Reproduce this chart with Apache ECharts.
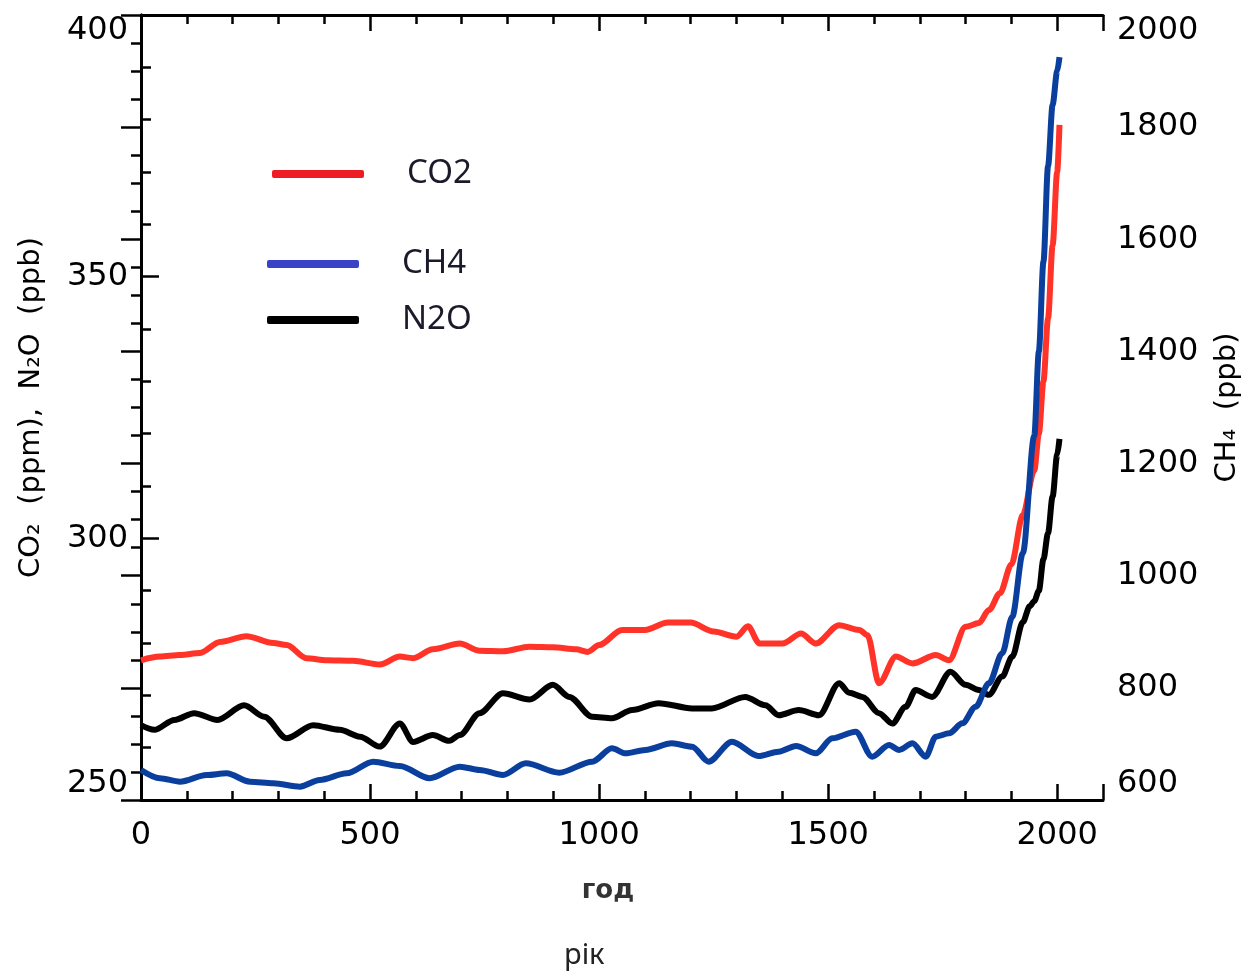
<!DOCTYPE html>
<html>
<head>
<meta charset="utf-8">
<script src="https://cdn.jsdelivr.net/npm/echarts@6/dist/echarts.min.js"></script>
<style>
  html, body { margin: 0; padding: 0; background: #fff; }
  #chart { width: 1259px; height: 973px; }
</style>
</head>
<body>
<div id="chart"></div>
<script>
// CO2, ppm (ліва вісь)
var co2Years = [0, 41, 85, 129, 172, 230, 289, 318, 361, 405, 463, 521, 565, 594, 637, 696, 739, 790, 848, 899, 950, 975, 1000, 1050, 1100, 1150, 1200, 1250, 1300, 1325, 1350, 1400, 1441, 1473, 1524, 1568, 1586, 1611, 1648, 1684, 1735, 1764, 1800, 1829, 1851, 1875, 1900, 1925, 1950, 1960, 1970, 1980, 1990, 2000, 2005];
var co2Values = [276.7, 277.4, 277.7, 278.1, 280.2, 281.3, 280.0, 279.6, 277.1, 276.7, 276.6, 275.9, 277.4, 277.1, 278.8, 279.9, 278.5, 278.4, 279.3, 279.2, 278.8, 278.3, 279.6, 282.5, 282.5, 283.9, 283.9, 282.2, 281.2, 283.2, 279.9, 279.9, 281.8, 279.9, 283.4, 282.5, 281.5, 272.3, 277.4, 276.1, 277.7, 276.7, 283.1, 283.8, 286.3, 289.5, 295, 304.5, 313, 320, 330, 342, 356, 370, 379];

// CH4, ppb (права вісь)
var ch4Years = [0, 41, 85, 143, 187, 238, 289, 347, 390, 449, 507, 565, 630, 696, 739, 790, 840, 913, 985, 1028, 1058, 1101, 1159, 1203, 1239, 1290, 1348, 1392, 1430, 1473, 1509, 1560, 1596, 1633, 1655, 1684, 1713, 1735, 1764, 1793, 1822, 1851, 1880, 1902, 1925, 1950, 1960, 1970, 1980, 1990, 2000, 2005];
var ch4Values = [653.6, 638.8, 632.7, 644.6, 647.6, 632.7, 629.8, 623.8, 635.7, 647.6, 668.4, 660.7, 638.8, 659.5, 653.6, 644.6, 665.4, 648.8, 668.4, 692.2, 683.2, 689.3, 701.1, 695.1, 668.4, 704.0, 678.5, 686.2, 696.3, 683.2, 710.0, 721.9, 677.3, 698.1, 689.3, 701.1, 677.3, 713.0, 718.9, 736.7, 766.4, 808.1, 861.6, 926.9, 1040, 1250, 1400, 1560, 1730, 1840, 1900, 1925];

// N2O, ppb (ліва вісь)
var n2oYears = [0, 29, 73, 116, 167, 225, 269, 318, 376, 434, 478, 521, 565, 594, 637, 673, 696, 739, 790, 848, 899, 935, 985, 1028, 1072, 1130, 1203, 1246, 1319, 1363, 1392, 1436, 1480, 1524, 1546, 1575, 1611, 1640, 1669, 1691, 1727, 1767, 1800, 1829, 1851, 1880, 1902, 1925, 1940, 1950, 1960, 1970, 1980, 1990, 2000, 2005];
var n2oValues = [264.3, 263.4, 265.3, 266.6, 265.3, 268.1, 265.9, 261.8, 264.3, 263.4, 262.1, 260.2, 264.6, 261.1, 262.4, 261.3, 262.4, 266.6, 270.4, 269.2, 272.0, 269.7, 265.9, 265.6, 267.2, 268.5, 267.5, 267.5, 269.7, 268.1, 266.2, 267.2, 266.2, 272.3, 270.5, 269.7, 266.6, 264.6, 267.8, 271.0, 269.7, 274.5, 272.0, 271.0, 270.1, 273.6, 277.4, 284, 287, 288, 290, 296, 301, 308, 316, 319];

function pairs(xs, ys) {
  return xs.map(function (x, i) { return [x, ys[i]]; });
}

var chart = echarts.init(document.getElementById('chart'));

var tickFont = 'DejaVu Sans';
var axisLineStyle = { color: '#000', width: 3 };
var plain = function (v) { return String(v); };

function xAx(pos, showLabel) {
  return {
    type: 'value',
    position: pos,
    min: 0,
    max: 2100,
    interval: 500,
    axisLine: { show: true, lineStyle: axisLineStyle },
    axisTick: { show: true, inside: true, length: 16, lineStyle: { color: '#000', width: 2.5 } },
    minorTick: { show: true, splitNumber: 5, length: 9, lineStyle: { color: '#000', width: 2.5 } },
    splitLine: { show: false },
    axisLabel: {
      show: showLabel,
      showMaxLabel: false,
      formatter: plain,
      margin: 20,
      fontFamily: tickFont,
      fontSize: 32,
      color: '#000'
    }
  };
}

chart.setOption({
  animation: false,
  backgroundColor: '#fff',
  grid: { left: 141, top: 15, width: 962, height: 785, containLabel: false },
  title: {
    text: 'рік',
    left: 559,
    top: 936,
    textStyle: { fontFamily: 'Noto Sans', fontSize: 29, fontWeight: 'normal', color: '#222' }
  },
  legend: [
    { data: [{ name: 'CO2', itemStyle: { color: '#ee1c24' } }], left: 272, top: 154 },
    { data: [{ name: 'CH4', itemStyle: { color: '#3a42c6' } }], left: 267, top: 244 },
    { data: [{ name: 'N2O', itemStyle: { color: '#000' } }], left: 267, top: 300 }
  ].map(function (l) {
    l.icon = 'roundRect';
    l.itemWidth = 92;
    l.itemHeight = 8;
    l.padding = 0;
    l.selectedMode = false;
    l.textStyle = { fontFamily: 'Noto Sans', fontSize: 33, color: '#1a1a2a', lineHeight: 40, padding: [0, 0, 0, 38] };
    return l;
  }),
  xAxis: [
    Object.assign(xAx('bottom', true), {
      name: 'год',
      nameLocation: 'middle',
      nameGap: 78,
      nameTextStyle: { fontFamily: tickFont, fontSize: 26, fontWeight: 'bold', color: '#333', padding: [0, 28, 0, 0] }
    }),
    xAx('top', false)
  ],
  yAxis: [
    {
      type: 'value',
      position: 'left',
      min: 250,
      max: 400,
      interval: 50,
      name: 'CO₂  (ppm),  N₂O  (ppb)',
      nameLocation: 'middle',
      nameRotate: 90,
      nameGap: 95,
      nameTextStyle: { fontFamily: tickFont, fontSize: 29, color: '#000' },
      axisLine: { show: true, lineStyle: axisLineStyle },
      axisTick: { show: true, inside: true, length: 18, lineStyle: { color: '#000', width: 2.5 } },
      minorTick: { show: true, splitNumber: 5, length: 10, lineStyle: { color: '#000', width: 2.5 } },
      splitLine: { show: false },
      axisLabel: {
        margin: 13,
        formatter: plain,
        fontFamily: tickFont,
        fontSize: 32,
        color: '#000',
        verticalAlignMaxLabel: 'top',
        verticalAlignMinLabel: 'bottom'
      }
    },
    {
      type: 'value',
      position: 'right',
      min: 600,
      max: 2000,
      interval: 200,
      name: 'CH₄  (ppb)',
      nameLocation: 'middle',
      nameRotate: 90,
      nameGap: 110,
      nameTextStyle: { fontFamily: tickFont, fontSize: 29, color: '#000' },
      axisLine: { show: true, lineStyle: axisLineStyle },
      axisTick: { show: true, inside: true, length: 20, lineStyle: { color: '#000', width: 2.5 } },
      minorTick: { show: true, splitNumber: 4, length: 10, lineStyle: { color: '#000', width: 2.5 } },
      splitLine: { show: false },
      axisLabel: {
        margin: 14,
        formatter: plain,
        fontFamily: tickFont,
        fontSize: 32,
        color: '#000',
        verticalAlignMaxLabel: 'top',
        verticalAlignMinLabel: 'bottom'
      }
    }
  ],
  series: [
    {
      name: 'CO2',
      type: 'line',
      yAxisIndex: 0,
      data: pairs(co2Years, co2Values),
      showSymbol: false,
      smooth: 0.3,
      smoothMonotone: 'x',
      lineStyle: { color: '#ff3328', width: 6 },
      itemStyle: { color: '#ff3328' },
      z: 3
    },
    {
      name: 'CH4',
      type: 'line',
      yAxisIndex: 1,
      data: pairs(ch4Years, ch4Values),
      showSymbol: false,
      smooth: 0.3,
      smoothMonotone: 'x',
      lineStyle: { color: '#0a3f9e', width: 6 },
      itemStyle: { color: '#0a3f9e' },
      z: 4
    },
    {
      name: 'N2O',
      type: 'line',
      yAxisIndex: 0,
      data: pairs(n2oYears, n2oValues),
      showSymbol: false,
      smooth: 0.3,
      smoothMonotone: 'x',
      lineStyle: { color: '#000', width: 6 },
      itemStyle: { color: '#000' },
      z: 2
    }
  ]
});
</script>
</body>
</html>
